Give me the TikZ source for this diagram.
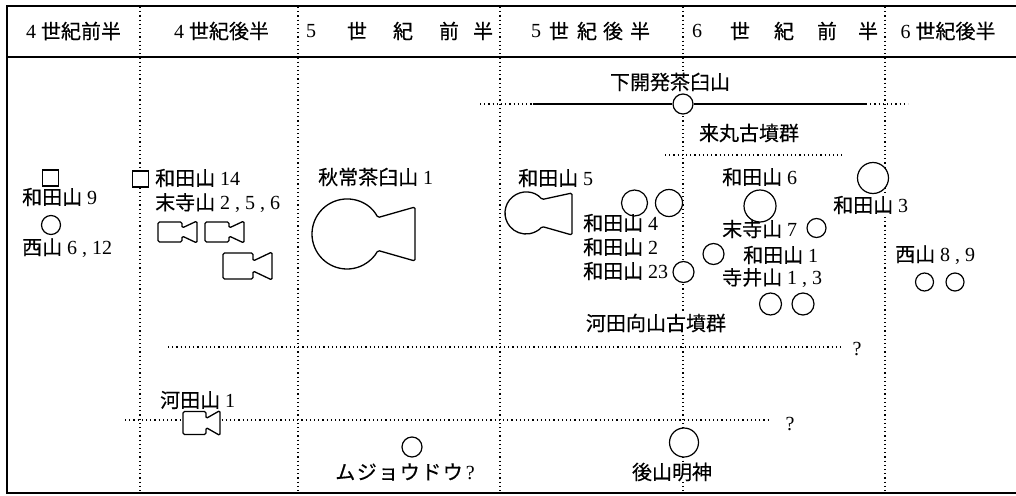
\documentclass[tikz,border=0pt]{standalone}
\usepackage{fontspec}
\setmainfont{Liberation Serif}
\newfontfamily\jp[FakeBold=0.4]{Noto Sans CJK JP}
\newcommand\J[1]{{\jp #1}}
\tikzset{
  pics/zenpo/.style n args={4}{code={
    \draw[shp] (0,-#2/2) -- (#1,-#2/2) -- (#1,-#2/2+#4) -- (#1+#3,-#2/2-1)
      -- (#1+#3,#2/2+1) -- (#1,#2/2-#4) -- (#1,#2/2) -- (0,#2/2) -- cycle;
  }}
}
\begin{document}
\begin{tikzpicture}[x=1pt,y=-1pt,
  txt/.style={font=\fontsize{20}{22}\selectfont, inner sep=0pt},
  lbl/.style={txt, anchor=west},
  wlbl/.style={txt, anchor=west, fill=white, inner ysep=1pt},
  clbl/.style={txt},
  wclbl/.style={txt, fill=white, inner ysep=1pt},
  hdr/.style={txt},
  frame/.style={line width=1.4pt},
  dl/.style={line width=1.2pt, dash pattern=on 1.2pt off 3pt},
  sol/.style={line width=1.1pt},
  tomb/.style={draw, circle, line width=1.2pt, fill=white, inner sep=0pt, minimum size=#1},
  sqr/.style={draw, line width=1.2pt, fill=white, inner sep=0pt, minimum width=16pt, minimum height=16pt},
  shp/.style={draw, line width=1.3pt, fill=white, line join=round, rounded corners=1.5pt}
]
\useasboundingbox (0,0) rectangle (1016,495);
\fill[white] (0,0) rectangle (1016,495);

% frame
\draw[frame] (1016,6) -- (7,6) -- (7,493) -- (1016,493);
\draw[line width=1.2pt] (7,57) -- (1016,57);

% vertical dotted lines
\foreach \x in {140,298,500,683,885} \draw[dl] (\x,7) -- (\x,492);

% horizontal dotted lines
\draw[dl] (168,347) -- (842,347);
\draw[dl] (125,420) -- (770,420);
\draw[dl] (665,155) -- (842,155);

% header
\node[hdr] (h1) at (73.5,31) {4\ \J{世紀前半}};
\node[hdr] (h2) at (221.5,31) {4\ \J{世紀後半}};
\node[hdr] (h3a) at (311,31) {5};
\node[hdr] (h3b) at (357,31) {\J{世}};
\node[hdr] (h3c) at (403,31) {\J{紀}};
\node[hdr] (h3d) at (449,31) {\J{前}};
\node[hdr] (h3e) at (483,31) {\J{半}};
\node[hdr] (h4a) at (536,31) {5};
\node[hdr] (h4b) at (559,31) {\J{世}};
\node[hdr] (h4c) at (587,31) {\J{紀}};
\node[hdr] (h4d) at (613,31) {\J{後}};
\node[hdr] (h4e) at (640,31) {\J{半}};
\node[hdr] (h5a) at (697,31) {6};
\node[hdr] (h5b) at (740,31) {\J{世}};
\node[hdr] (h5c) at (784,31) {\J{紀}};
\node[hdr] (h5d) at (827,31) {\J{前}};
\node[hdr] (h5e) at (868,31) {\J{半}};
\node[hdr] (h6) at (948,31) {6\ \J{世紀後半}};

% 4th century first half
\node[sqr] (s9) at (50.5,178) {};
\node[lbl] (w9) at (22,197) {\J{和田山}\ 9};
\node[tomb=19pt] (c612) at (51,225) {};
\node[lbl] (n612) at (22,248) {\J{西山}\ 6~,~12};

% 4th century second half
\node[sqr] (s14) at (140.5,179) {};
\node[lbl] (w14) at (155,178) {\J{和田山}\ 14};
\node[lbl] (m256) at (155,203) {\J{末寺山}\ 2~,~5~,~6};
\pic (k1) at (158,232) {zenpo={24}{20}{15}{6}};
\pic (k2) at (205,232) {zenpo={24}{20}{15}{6}};
\pic (k3) at (223,266) {zenpo={30}{26}{19}{8}};
\node[lbl] (kw1) at (160,400) {\J{河田山}\ 1};
\pic (k4) at (183,423) {zenpo={23}{23}{14}{7}};

% 5th century first half
\node[lbl] (akt) at (318,177) {\J{秋常茶臼山}\ 1};
\draw[shp] ([shift={(-28:35)}]347,234) arc[start angle=-28, end angle=-332, radius=35]
  -- (415,261) -- (415,207) -- cycle;
\node[tomb=20pt] (cm) at (412,447) {};
\node[clbl] (mujo) at (405,472) {\J{ム\hspace{1.5pt}ジ\hspace{1.5pt}ョ\hspace{1.5pt}ウ\hspace{1.5pt}ド\hspace{1.5pt}ウ}\hspace{3pt}?};

% 5th century second half
\node[lbl] (w5) at (518,178) {\J{和田山}\ 5};
\draw[shp] ([shift={(-40:21)}]526,213) arc[start angle=-40, end angle=-320, radius=21]
  -- (572,235) -- (572,193) -- cycle;
\node[tomb=26pt] (ca) at (634.5,203) {};
\node[tomb=27pt] (cb) at (669,203) {};
\node[lbl] (w4) at (583,223) {\J{和田山}\ 4};
\node[lbl] (w2) at (583,247) {\J{和田山}\ 2};
\node[lbl] (w23) at (583,271) {\J{和田山}\ 23};
\node[tomb=21pt] (c23) at (683.5,272) {};
\node[wclbl] (kawata) at (656,323) {\J{河田向山古墳群}};
\node[txt] (q1) at (857,349) {?};
\node[txt] (q2) at (790,424) {?};
\node[tomb=29pt] (cu) at (684,442.5) {};
\node[wclbl] (ushiro) at (672,472) {\J{後山明神}};

% Shimokaihatsu line
\node[wclbl] (shimo) at (670,82) {\J{下開発茶臼山}};
\node[tomb=20pt] (sc) at (683,104) {};
\coordinate (sA) at (480,104);
\coordinate (sB) at (533,104);
\coordinate (sC) at (866,104);
\coordinate (sD) at (908,104);
\draw[dl] (sA) -- (sB);
\draw[sol] (sB) -- (sc.west);
\draw[sol] (sc.east) -- (sC);
\draw[dl] (sC) -- (sD);

% 6th century first half
\node[clbl] (kuru) at (749,133) {\J{来丸古墳群}};
\node[lbl] (w6) at (722,177) {\J{和田山}\ 6};
\node[tomb=32pt] (c6) at (760,206) {};
\node[lbl] (m7) at (722,229) {\J{末寺山}\ 7};
\node[tomb=19pt] (c7) at (816.5,228) {};
\node[tomb=21pt] (cL) at (713.5,254) {};
\node[lbl] (w1) at (743,255) {\J{和田山}\ 1};
\node[lbl] (terai) at (722,278) {\J{寺井山}\ 1~,~3};
\node[tomb=22pt] (ct1) at (770.5,304) {};
\node[tomb=22pt] (ct2) at (803,304) {};

% 6th century second half
\node[tomb=31pt] (c3) at (873,178) {};
\node[wlbl] (w3) at (833,205) {\J{和田山}\ 3};
\node[lbl] (n89) at (895,255) {\J{西山}\ 8~,~9};
\node[tomb=18pt] (cn1) at (924.5,282) {};
\node[tomb=18pt] (cn2) at (955,282) {};
\end{tikzpicture}
\end{document}
